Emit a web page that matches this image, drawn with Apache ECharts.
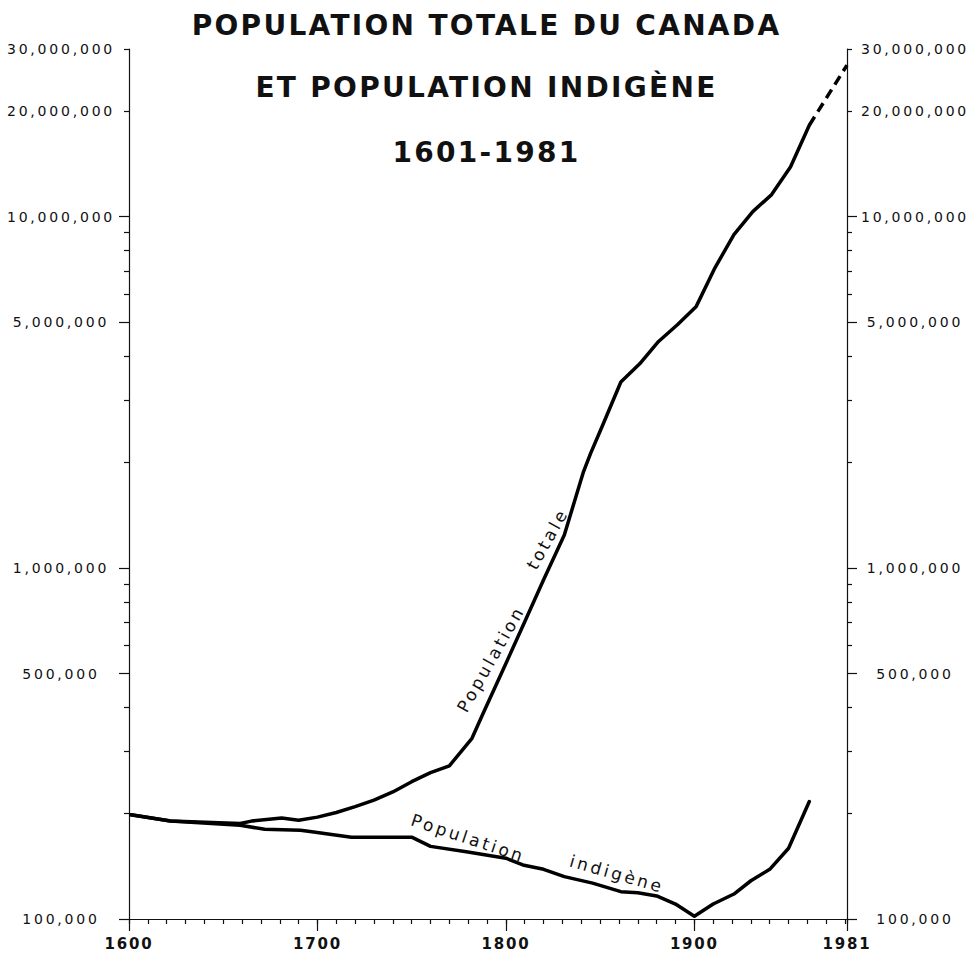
<!DOCTYPE html>
<html>
<head>
<meta charset="utf-8">
<script src="https://cdn.jsdelivr.net/npm/echarts@6/dist/echarts.min.js"></script>
<style>
  html, body { margin: 0; padding: 0; background: #fff; }
  #chart { width: 973px; height: 954px; }
  /* the original lettering is widely spaced */
  #chart text[style*="28px"] { letter-spacing: 2.3px; }
  #chart text[style*="14px"] { letter-spacing: 2.8px; }
  #chart text[style*="15px"] { letter-spacing: 1.8px; }
  #chart text[style*="17px"] { letter-spacing: 3px; }
</style>
</head>
<body>
<div id="chart"></div>
<script>
// total population of Canada
const totalYears = [1601, 1622, 1659, 1665, 1681, 1690, 1700, 1710, 1720, 1730, 1740, 1750, 1760, 1770, 1782, 1788, 1800, 1810, 1820, 1831, 1841, 1845, 1851, 1861, 1871, 1881, 1891, 1901, 1911, 1921, 1931, 1941, 1951, 1961];
const totalValues = [198000, 190000, 187000, 190000, 194000, 191000, 195000, 201000, 209000, 218000, 230000, 246000, 261000, 273000, 327000, 386000, 534000, 702000, 925000, 1240000, 1866000, 2120000, 2520000, 3380000, 3810000, 4410000, 4920000, 5550000, 7160000, 8880000, 10330000, 11550000, 13840000, 18200000];
// dashed part up to 1981
const projYears = [1961, 1981];
const projValues = [18200000, 27000000];
// native population
const nativeYears = [1601, 1622, 1659, 1672, 1691, 1698, 1718, 1750, 1760, 1779, 1800, 1809, 1820, 1831, 1846, 1861, 1870, 1880, 1890, 1900, 1910, 1921, 1930, 1940, 1950, 1961];
const nativeValues = [198000, 190000, 185000, 180000, 179000, 177000, 171000, 171000, 161000, 155500, 149000, 142500, 138500, 132000, 126500, 119600, 118800, 116300, 110300, 101800, 110300, 117800, 128500, 138500, 159000, 216000];

const yLabelValues = [100000, 500000, 1000000, 5000000, 10000000, 20000000, 30000000];
const yLongTicks = [100000, 500000, 1000000, 5000000, 10000000];
const yShortTicks = [200000, 300000, 400000, 600000, 700000, 800000, 900000, 2000000, 3000000, 4000000, 6000000, 7000000, 8000000, 9000000, 20000000, 30000000];

const titleLines = ['POPULATION TOTALE DU CANADA', 'ET POPULATION INDIGÈNE', '1601-1981'];

// text along the curves: [text, year, value, angle in degrees]
const curveLabels = [
  ['Population', 1792, 550000, 60.6],
  ['totale', 1822, 1210000, 60.8],
  ['Population', 1780, 170000, -18.4],
  ['indigène', 1859, 134400, -16]
];

const ink = '#111';
const font = 'DejaVu Sans';
const zip = (xs, ys) => xs.map((x, i) => [x, ys[i]]);
const fmt = v => Math.round(v).toLocaleString('en-US');

const chart = echarts.init(document.getElementById('chart'), null, { renderer: 'svg' });

function yAxisPair(position, withLabels) {
  return {
    type: 'log',
    logBase: 10,
    min: 100000,
    max: 30000000,
    position: position,
    axisLine: { show: withLabels, lineStyle: { color: ink, width: 1.2 } },
    axisTick: {
      show: true,
      length: withLabels ? 10 : 5,
      customValues: withLabels ? yLongTicks : yShortTicks,
      lineStyle: { color: ink, width: 1.2 }
    },
    axisLabel: {
      show: withLabels,
      customValues: yLabelValues,
      formatter: fmt,
      align: 'center',
      margin: 68,
      fontSize: 14,
      fontFamily: font,
      color: ink
    },
    splitLine: { show: false },
    minorTick: { show: false }
  };
}

const option = {
  backgroundColor: '#fff',
  animation: false,
  title: titleLines.map((t, i) => ({
    text: t,
    left: 'center',
    top: [6, 68, 133][i],
    textStyle: { fontSize: 28, fontWeight: 'bold', fontFamily: font, color: ink }
  })),
  grid: { left: 129, right: 126, top: 49, bottom: 35, outerBoundsMode: 'none', containLabel: false },
  xAxis: [
    {
      type: 'value',
      min: 1600,
      max: 1981,
      interval: 100,
      axisLine: { lineStyle: { color: ink, width: 1.2 } },
      axisTick: { length: 12, lineStyle: { color: ink, width: 1.2 } },
      axisLabel: { fontSize: 15, fontWeight: 'bold', fontFamily: font, color: ink, margin: 17, lineHeight: 15, showMaxLabel: true, formatter: v => String(v) },
      splitLine: { show: false }
    },
    {
      type: 'value',
      min: 1600,
      max: 1981,
      interval: 10,
      position: 'bottom',
      axisLine: { show: false },
      axisTick: { length: 5, lineStyle: { color: ink, width: 1.2 } },
      axisLabel: { show: false },
      splitLine: { show: false }
    }
  ],
  yAxis: [
    yAxisPair('left', true),
    yAxisPair('right', true),
    yAxisPair('left', false),
    yAxisPair('right', false)
  ],
  series: [
    {
      name: 'Population totale',
      type: 'line',
      data: zip(totalYears, totalValues),
      showSymbol: false,
      lineStyle: { color: '#000', width: 3.5, cap: 'round', join: 'round' }
    },
    {
      name: 'Population totale (fin)',
      type: 'line',
      data: zip(projYears, projValues),
      showSymbol: false,
      lineStyle: { color: '#000', width: 3.5, type: [10, 6] }
    },
    {
      name: 'Population indigène',
      type: 'line',
      data: zip(nativeYears, nativeValues),
      showSymbol: false,
      lineStyle: { color: '#000', width: 3.5, cap: 'round', join: 'round' }
    }
  ]
};

chart.setOption(option);

chart.setOption({
  graphic: curveLabels.map(([text, year, value, angle]) => {
    const p = chart.convertToPixel({ seriesIndex: 0 }, [year, value]);
    return {
      type: 'text',
      x: p[0],
      y: p[1],
      rotation: angle * Math.PI / 180,
      style: {
        text: text,
        font: '17px "DejaVu Sans"',
        fill: ink,
        align: 'center',
        verticalAlign: 'middle',
        textAlign: 'center',
        textVerticalAlign: 'middle'
      }
    };
  })
});
</script>
</body>
</html>
